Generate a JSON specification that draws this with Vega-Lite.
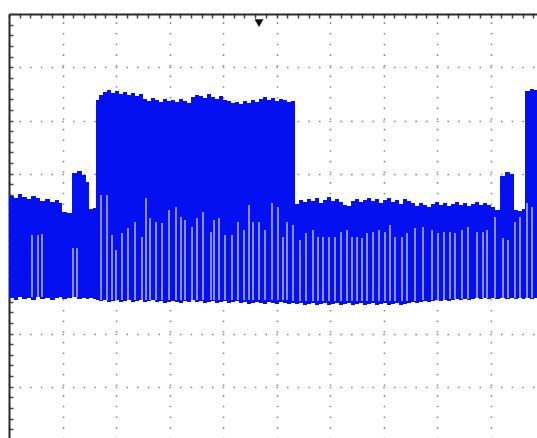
{
  "$schema": "https://vega.github.io/schema/vega-lite/v6.json",
  "width": 528,
  "height": 424,
  "autosize": {"type": "none"},
  "padding": {"left": 9, "top": 14, "right": 0, "bottom": 0},
  "background": "white",
  "config": {"view": {"stroke": null}},
  "datasets": {
    "env": [
      {"t": 0, "hi": 0.582, "lo": -1.333},
      {"t": 0.093, "hi": 0.545, "lo": -1.371},
      {"t": 0.168, "hi": 0.620, "lo": -1.315},
      {"t": 0.243, "hi": 0.563, "lo": -1.352},
      {"t": 0.336, "hi": 0.526, "lo": -1.333},
      {"t": 0.411, "hi": 0.582, "lo": -1.371},
      {"t": 0.505, "hi": 0.545, "lo": -1.315},
      {"t": 0.579, "hi": 0.488, "lo": -1.352},
      {"t": 0.673, "hi": 0.526, "lo": -1.333},
      {"t": 0.766, "hi": 0.469, "lo": -1.371},
      {"t": 0.860, "hi": 0.507, "lo": -1.333},
      {"t": 0.935, "hi": 0.451, "lo": -1.315},
      {"t": 0.991, "hi": 0.282, "lo": -1.352},
      {"t": 1.084, "hi": 0.263, "lo": -1.333},
      {"t": 1.178, "hi": 1.014, "lo": -1.315},
      {"t": 1.271, "hi": 1.052, "lo": -1.352},
      {"t": 1.364, "hi": 0.977, "lo": -1.333},
      {"t": 1.439, "hi": 0.845, "lo": -1.352},
      {"t": 1.495, "hi": 0.338, "lo": -1.333},
      {"t": 1.570, "hi": 0.357, "lo": -1.352},
      {"t": 1.626, "hi": 2.385, "lo": -1.371},
      {"t": 1.682, "hi": 2.479, "lo": -1.390},
      {"t": 1.757, "hi": 2.535, "lo": -1.371},
      {"t": 1.832, "hi": 2.573, "lo": -1.408},
      {"t": 1.907, "hi": 2.516, "lo": -1.390},
      {"t": 1.981, "hi": 2.554, "lo": -1.371},
      {"t": 2.056, "hi": 2.498, "lo": -1.408},
      {"t": 2.131, "hi": 2.535, "lo": -1.390},
      {"t": 2.206, "hi": 2.479, "lo": -1.371},
      {"t": 2.280, "hi": 2.516, "lo": -1.408},
      {"t": 2.355, "hi": 2.460, "lo": -1.390},
      {"t": 2.430, "hi": 2.498, "lo": -1.371},
      {"t": 2.505, "hi": 2.404, "lo": -1.408},
      {"t": 2.579, "hi": 2.366, "lo": -1.390},
      {"t": 2.654, "hi": 2.423, "lo": -1.371},
      {"t": 2.729, "hi": 2.385, "lo": -1.408},
      {"t": 2.804, "hi": 2.347, "lo": -1.390},
      {"t": 2.879, "hi": 2.404, "lo": -1.427},
      {"t": 2.953, "hi": 2.366, "lo": -1.408},
      {"t": 3.028, "hi": 2.385, "lo": -1.390},
      {"t": 3.103, "hi": 2.347, "lo": -1.408},
      {"t": 3.178, "hi": 2.404, "lo": -1.427},
      {"t": 3.252, "hi": 2.366, "lo": -1.390},
      {"t": 3.327, "hi": 2.329, "lo": -1.408},
      {"t": 3.402, "hi": 2.441, "lo": -1.371},
      {"t": 3.477, "hi": 2.479, "lo": -1.408},
      {"t": 3.551, "hi": 2.460, "lo": -1.390},
      {"t": 3.626, "hi": 2.423, "lo": -1.427},
      {"t": 3.701, "hi": 2.498, "lo": -1.408},
      {"t": 3.776, "hi": 2.441, "lo": -1.390},
      {"t": 3.850, "hi": 2.404, "lo": -1.427},
      {"t": 3.925, "hi": 2.460, "lo": -1.408},
      {"t": 4.000, "hi": 2.385, "lo": -1.390},
      {"t": 4.075, "hi": 2.366, "lo": -1.427},
      {"t": 4.150, "hi": 2.329, "lo": -1.408},
      {"t": 4.224, "hi": 2.347, "lo": -1.390},
      {"t": 4.299, "hi": 2.310, "lo": -1.427},
      {"t": 4.374, "hi": 2.366, "lo": -1.408},
      {"t": 4.449, "hi": 2.329, "lo": -1.446},
      {"t": 4.523, "hi": 2.385, "lo": -1.427},
      {"t": 4.598, "hi": 2.347, "lo": -1.408},
      {"t": 4.673, "hi": 2.404, "lo": -1.427},
      {"t": 4.748, "hi": 2.441, "lo": -1.446},
      {"t": 4.822, "hi": 2.385, "lo": -1.408},
      {"t": 4.897, "hi": 2.423, "lo": -1.427},
      {"t": 4.972, "hi": 2.366, "lo": -1.446},
      {"t": 5.047, "hi": 2.404, "lo": -1.408},
      {"t": 5.121, "hi": 2.385, "lo": -1.427},
      {"t": 5.196, "hi": 2.347, "lo": -1.446},
      {"t": 5.271, "hi": 2.366, "lo": -1.427},
      {"t": 5.346, "hi": 0.432, "lo": -1.446},
      {"t": 5.421, "hi": 0.507, "lo": -1.427},
      {"t": 5.495, "hi": 0.469, "lo": -1.465},
      {"t": 5.570, "hi": 0.526, "lo": -1.446},
      {"t": 5.645, "hi": 0.488, "lo": -1.427},
      {"t": 5.720, "hi": 0.545, "lo": -1.465},
      {"t": 5.794, "hi": 0.451, "lo": -1.446},
      {"t": 5.869, "hi": 0.507, "lo": -1.427},
      {"t": 5.944, "hi": 0.563, "lo": -1.465},
      {"t": 6.019, "hi": 0.488, "lo": -1.446},
      {"t": 6.093, "hi": 0.526, "lo": -1.427},
      {"t": 6.168, "hi": 0.469, "lo": -1.465},
      {"t": 6.243, "hi": 0.413, "lo": -1.446},
      {"t": 6.318, "hi": 0.394, "lo": -1.427},
      {"t": 6.393, "hi": 0.488, "lo": -1.465},
      {"t": 6.467, "hi": 0.526, "lo": -1.446},
      {"t": 6.542, "hi": 0.469, "lo": -1.427},
      {"t": 6.617, "hi": 0.507, "lo": -1.465},
      {"t": 6.692, "hi": 0.545, "lo": -1.446},
      {"t": 6.766, "hi": 0.488, "lo": -1.427},
      {"t": 6.841, "hi": 0.526, "lo": -1.465},
      {"t": 6.916, "hi": 0.451, "lo": -1.446},
      {"t": 6.991, "hi": 0.507, "lo": -1.427},
      {"t": 7.065, "hi": 0.545, "lo": -1.465},
      {"t": 7.140, "hi": 0.469, "lo": -1.446},
      {"t": 7.215, "hi": 0.507, "lo": -1.427},
      {"t": 7.290, "hi": 0.432, "lo": -1.465},
      {"t": 7.364, "hi": 0.526, "lo": -1.446},
      {"t": 7.439, "hi": 0.488, "lo": -1.427},
      {"t": 7.514, "hi": 0.451, "lo": -1.408},
      {"t": 7.589, "hi": 0.394, "lo": -1.427},
      {"t": 7.664, "hi": 0.451, "lo": -1.408},
      {"t": 7.738, "hi": 0.413, "lo": -1.390},
      {"t": 7.813, "hi": 0.376, "lo": -1.408},
      {"t": 7.888, "hi": 0.432, "lo": -1.390},
      {"t": 7.963, "hi": 0.469, "lo": -1.371},
      {"t": 8.037, "hi": 0.413, "lo": -1.390},
      {"t": 8.112, "hi": 0.451, "lo": -1.371},
      {"t": 8.187, "hi": 0.394, "lo": -1.390},
      {"t": 8.262, "hi": 0.432, "lo": -1.371},
      {"t": 8.336, "hi": 0.469, "lo": -1.352},
      {"t": 8.411, "hi": 0.413, "lo": -1.371},
      {"t": 8.486, "hi": 0.451, "lo": -1.352},
      {"t": 8.561, "hi": 0.394, "lo": -1.371},
      {"t": 8.636, "hi": 0.432, "lo": -1.352},
      {"t": 8.710, "hi": 0.469, "lo": -1.333},
      {"t": 8.785, "hi": 0.413, "lo": -1.352},
      {"t": 8.860, "hi": 0.451, "lo": -1.333},
      {"t": 8.935, "hi": 0.413, "lo": -1.352},
      {"t": 9.009, "hi": 0.376, "lo": -1.333},
      {"t": 9.084, "hi": 0.319, "lo": -1.352},
      {"t": 9.178, "hi": 0.958, "lo": -1.333},
      {"t": 9.271, "hi": 1.033, "lo": -1.352},
      {"t": 9.364, "hi": 0.995, "lo": -1.333},
      {"t": 9.439, "hi": 0.319, "lo": -1.352},
      {"t": 9.514, "hi": 0.300, "lo": -1.333},
      {"t": 9.589, "hi": 0.338, "lo": -1.352},
      {"t": 9.645, "hi": 2.554, "lo": -1.333},
      {"t": 9.738, "hi": 2.592, "lo": -1.352},
      {"t": 9.813, "hi": 2.573, "lo": -1.333},
      {"t": 9.869, "hi": 2.573, "lo": -1.333}
    ],
    "gaps": [
      {"t": 0.430, "top": -0.150, "bot": -1.315},
      {"t": 0.542, "top": -0.150, "bot": -1.315},
      {"t": 0.617, "top": -0.131, "bot": -1.315},
      {"t": 1.196, "top": -0.394, "bot": -1.315},
      {"t": 1.271, "top": -0.394, "bot": -1.315},
      {"t": 1.720, "top": 0.601, "bot": -1.371},
      {"t": 1.832, "top": 0.601, "bot": -1.371},
      {"t": 1.925, "top": -0.150, "bot": -1.371},
      {"t": 2.000, "top": -0.432, "bot": -1.371},
      {"t": 2.112, "top": -0.113, "bot": -1.371},
      {"t": 2.224, "top": -0.019, "bot": -1.371},
      {"t": 2.355, "top": 0.094, "bot": -1.371},
      {"t": 2.486, "top": -0.188, "bot": -1.371},
      {"t": 2.561, "top": 0.545, "bot": -1.371},
      {"t": 2.636, "top": 0.169, "bot": -1.371},
      {"t": 2.748, "top": 0.094, "bot": -1.371},
      {"t": 2.860, "top": 0.075, "bot": -1.371},
      {"t": 2.991, "top": 0.319, "bot": -1.371},
      {"t": 3.121, "top": 0.376, "bot": -1.371},
      {"t": 3.215, "top": 0.188, "bot": -1.371},
      {"t": 3.290, "top": 0.131, "bot": -1.371},
      {"t": 3.421, "top": 0.000, "bot": -1.371},
      {"t": 3.514, "top": 0.169, "bot": -1.371},
      {"t": 3.626, "top": 0.282, "bot": -1.371},
      {"t": 3.776, "top": -0.094, "bot": -1.371},
      {"t": 3.832, "top": 0.131, "bot": -1.371},
      {"t": 3.925, "top": 0.169, "bot": -1.371},
      {"t": 4.037, "top": -0.150, "bot": -1.371},
      {"t": 4.168, "top": -0.150, "bot": -1.371},
      {"t": 4.280, "top": 0.094, "bot": -1.371},
      {"t": 4.393, "top": -0.056, "bot": -1.371},
      {"t": 4.486, "top": 0.413, "bot": -1.371},
      {"t": 4.561, "top": 0.094, "bot": -1.371},
      {"t": 4.673, "top": 0.094, "bot": -1.371},
      {"t": 4.785, "top": -0.056, "bot": -1.371},
      {"t": 4.916, "top": 0.451, "bot": -1.371},
      {"t": 5.028, "top": 0.376, "bot": -1.371},
      {"t": 5.121, "top": -0.188, "bot": -1.371},
      {"t": 5.196, "top": 0.094, "bot": -1.371},
      {"t": 5.308, "top": 0.038, "bot": -1.390},
      {"t": 5.439, "top": -0.244, "bot": -1.390},
      {"t": 5.551, "top": -0.113, "bot": -1.390},
      {"t": 5.682, "top": -0.056, "bot": -1.390},
      {"t": 5.776, "top": -0.188, "bot": -1.390},
      {"t": 5.869, "top": -0.188, "bot": -1.390},
      {"t": 5.981, "top": -0.188, "bot": -1.390},
      {"t": 6.093, "top": -0.188, "bot": -1.390},
      {"t": 6.206, "top": -0.094, "bot": -1.390},
      {"t": 6.318, "top": -0.056, "bot": -1.390},
      {"t": 6.411, "top": -0.188, "bot": -1.390},
      {"t": 6.505, "top": -0.188, "bot": -1.390},
      {"t": 6.598, "top": -0.207, "bot": -1.390},
      {"t": 6.692, "top": -0.113, "bot": -1.390},
      {"t": 6.804, "top": -0.094, "bot": -1.390},
      {"t": 6.916, "top": -0.056, "bot": -1.390},
      {"t": 7.028, "top": -0.094, "bot": -1.390},
      {"t": 7.121, "top": 0.038, "bot": -1.390},
      {"t": 7.215, "top": -0.188, "bot": -1.390},
      {"t": 7.346, "top": -0.188, "bot": -1.390},
      {"t": 7.439, "top": -0.113, "bot": -1.390},
      {"t": 7.589, "top": -0.019, "bot": -1.390},
      {"t": 7.738, "top": 0.000, "bot": -1.371},
      {"t": 7.907, "top": -0.056, "bot": -1.371},
      {"t": 8.019, "top": -0.113, "bot": -1.371},
      {"t": 8.131, "top": -0.094, "bot": -1.371},
      {"t": 8.243, "top": -0.094, "bot": -1.352},
      {"t": 8.336, "top": -0.113, "bot": -1.352},
      {"t": 8.467, "top": -0.056, "bot": -1.352},
      {"t": 8.579, "top": 0.000, "bot": -1.352},
      {"t": 8.748, "top": -0.094, "bot": -1.333},
      {"t": 8.860, "top": -0.094, "bot": -1.333},
      {"t": 8.935, "top": -0.056, "bot": -1.333},
      {"t": 9.084, "top": 0.188, "bot": -1.333},
      {"t": 9.234, "top": -0.207, "bot": -1.333},
      {"t": 9.327, "top": -0.244, "bot": -1.333},
      {"t": 9.458, "top": 0.094, "bot": -1.333},
      {"t": 9.551, "top": 0.188, "bot": -1.333},
      {"t": 9.682, "top": 0.451, "bot": -1.333},
      {"t": 9.776, "top": 0.376, "bot": -1.333}
    ],
    "trig": [{"t": 4.673, "v": 3.83}]
  },
  "layer": [
    {
      "mark": {"type": "rule", "color": "#555555", "strokeWidth": 6, "strokeDash": [1.3, 9.35]},
      "encoding": {
        "x": {"datum": 5, "type": "quantitative",
          "scale": {"domain": [0, 9.869], "nice": false, "zero": false},
          "axis": {
            "orient": "top",
            "values": [0,0.2,0.4,0.6,0.8,1,1.2,1.4,1.6,1.8,2,2.2,2.4,2.6,2.8,3,3.2,3.4,3.6,3.8,4,4.2,4.4,4.6,4.8,5,5.2,5.4,5.6,5.8,6,6.2,6.4,6.6,6.8,7,7.2,7.4,7.6,7.8,8,8.2,8.4,8.6,8.8,9,9.2,9.4,9.6,9.8],
            "tickCount": 200,
            "labels": false, "title": null,
            "domain": true, "domainColor": "#2a2a2a", "domainWidth": 2,
            "ticks": true, "tickSize": -4, "tickColor": "#444444", "tickWidth": 1.5,
            "grid": true, "gridColor": "#8a8a8a", "gridWidth": 1.6,
            "gridDash": [1.6, 9.05], "gridDashOffset": 0.8,
            "gridOpacity": {"condition": {"test": "abs(datum.value - round(datum.value)) < 0.01", "value": 1}, "value": 0}
          }
        }
      }
    },
    {
      "mark": {"type": "rule", "color": "#555555", "strokeWidth": 6, "strokeDash": [1.3, 9.4]},
      "encoding": {
        "y": {"datum": 0, "type": "quantitative",
          "scale": {"domain": [-3.962, 4], "nice": false, "zero": false},
          "axis": {
            "orient": "left",
            "values": [-3.8,-3.6,-3.4,-3.2,-3,-2.8,-2.6,-2.4,-2.2,-2,-1.8,-1.6,-1.4,-1.2,-1,-0.8,-0.6,-0.4,-0.2,0,0.2,0.4,0.6,0.8,1,1.2,1.4,1.6,1.8,2,2.2,2.4,2.6,2.8,3,3.2,3.4,3.6,3.8,4],
            "tickCount": 200,
            "labels": false, "title": null,
            "domain": true, "domainColor": "#2a2a2a", "domainWidth": 2,
            "ticks": true, "tickSize": -4, "tickColor": "#444444", "tickWidth": 1.5,
            "grid": true, "gridColor": "#8a8a8a", "gridWidth": 1.6,
            "gridDash": [1.6, 9.1], "gridDashOffset": 0.8,
            "gridOpacity": {"condition": {"test": "abs(datum.value - round(datum.value)) < 0.01", "value": 1}, "value": 0}
          }
        }
      }
    },
    {
      "data": {"name": "env"},
      "mark": {"type": "area", "interpolate": "step-after", "color": "#0510f0", "opacity": 1},
      "encoding": {
        "x": {"field": "t", "type": "quantitative"},
        "y": {"field": "hi", "type": "quantitative"},
        "y2": {"field": "lo"}
      }
    },
    {
      "data": {"name": "gaps"},
      "mark": {"type": "rule", "color": "#a4a4f6", "strokeWidth": 1.7},
      "encoding": {
        "x": {"field": "t", "type": "quantitative"},
        "y": {"field": "top", "type": "quantitative"},
        "y2": {"field": "bot"}
      }
    },
    {
      "data": {"name": "trig"},
      "mark": {"type": "point", "shape": "triangle-down", "filled": true, "color": "#111111", "size": 80, "opacity": 1},
      "encoding": {
        "x": {"field": "t", "type": "quantitative"},
        "y": {"field": "v", "type": "quantitative"}
      }
    }
  ]
}
